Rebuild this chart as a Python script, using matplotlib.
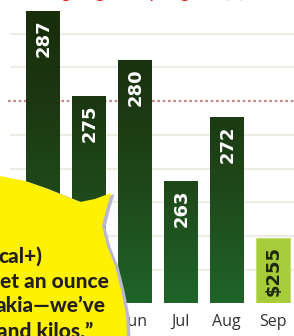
import matplotlib
matplotlib.use("Agg")
import matplotlib.pyplot as plt
import numpy as np
from matplotlib.patches import Polygon, Rectangle
from matplotlib.colors import LinearSegmentedColormap

months = ["", "", "Jun", "Jul", "Aug", "Sep"]
prices = [287, 275, 280, 263, 272, 255]
labels = ["287", "275", "280", "263", "272", "$255"]
bubble_lines = ["cal+)", "et an ounce", "akia\u2014we\u2019ve", "and kilos.\u201d"]

W, H = 294, 336
fig = plt.figure(figsize=(W / 100, H / 100), dpi=100)
fig.patch.set_facecolor("white")

ax = fig.add_axes([0, 1 - 303 / H, 1, 303 / H])
ax.set_facecolor("white")
ymin, ymax = 245.8, 288.5
x = np.arange(len(prices))

# left cream strip
fig.add_artist(Rectangle((0, 0), 8 / W, 1, transform=fig.transFigure,
                         facecolor="#f5f2de", edgecolor="none", zorder=-1))

# grid lines
xl = -0.937 + 10 / 45.9
for g in np.arange(250.5, 288, 4.75):
    if abs(g - 274.25) < 0.1:
        continue
    ax.hlines(g, xl, 5.468, color="#eeece4", lw=1.6, zorder=0)
ax.hlines(274.25, -0.937 + 8 / 45.9, 5.468, color="#c98a8a", lw=1.6,
          linestyles=(0, (1.2, 1.2)), zorder=0.5)

cmap = LinearSegmentedColormap.from_list(
    "g", [(0, "#1f6429"), (0.35, "#1f4a1b"), (0.65, "#1c3812"), (1, "#192c0a")])
grad = np.linspace(0, 1, 256).reshape(-1, 1)

bars = ax.bar(x, prices, width=0.74, bottom=0, color="#1d3a12",
              edgecolor="none", zorder=2)
for i, b in enumerate(bars):
    if i == len(bars) - 1:
        b.set_facecolor("#a6cc3a")
        b.set_edgecolor("#c4de6a")
        b.set_linewidth(0.8)
        continue
    im = ax.imshow(grad, cmap=cmap, origin="lower", aspect="auto",
                   extent=(b.get_x(), b.get_x() + b.get_width(), ymin, ymax),
                   zorder=2.1)
    im.set_clip_path(b)

for i, (xi, v, lab) in enumerate(zip(x, prices, labels)):
    last = i == len(prices) - 1
    ax.annotate(lab, (xi, v), xytext=(0.5, -6), textcoords="offset points",
                rotation=90, ha="center", va="top", fontsize=13,
                fontweight="bold", family="DejaVu Sans",
                color="#1e2a10" if last else "white", zorder=3)

ax.set_ylim(ymin, ymax)
ax.set_xlim(-0.937, 5.468)
ax.set_xticks(x)
ax.set_xticklabels(months, fontsize=11.5, color="#333333", family="Open Sans")
ax.tick_params(axis="x", length=0, pad=8)
ax.set_yticks([])
for s in ax.spines.values():
    s.set_visible(False)

# red title fragment at top (mostly cropped)
fig.text(138 / W, 1 + 1.8 / H, "the going rate, per gram ($)", color="#e32119",
         fontsize=13, ha="center", va="baseline", family="Lato")

# speech bubble
pts = [(0, 176), (25, 181), (45, 188), (65, 196), (80, 202), (95, 199),
       (111, 193), (106, 210), (102, 226), (107, 246), (115, 266),
       (121, 290), (126, 315), (127, 336), (0, 336)]
def fc(p, dx=0, dy=0):
    return [((px + dx) / W, 1 - (py + dy) / H) for px, py in p]
fig.add_artist(Polygon(fc(pts, 3.5, 1), closed=True, transform=fig.transFigure,
                       facecolor="#bdb7cc", edgecolor="none", zorder=5))
fig.add_artist(Polygon(fc(pts), closed=True, transform=fig.transFigure,
                       facecolor="#fff200", edgecolor="none", zorder=6))
ends = [(42, 263), (109, 288), (106, 312), (93, 338)]
for (ex, by), t in zip(ends, bubble_lines):
    fig.text(ex / W, 1 - by / H, t, ha="right", va="baseline", fontsize=15,
             fontweight="black", family="Lato", color="#231f20", zorder=7)

fig.savefig("out.png", dpi=100)
